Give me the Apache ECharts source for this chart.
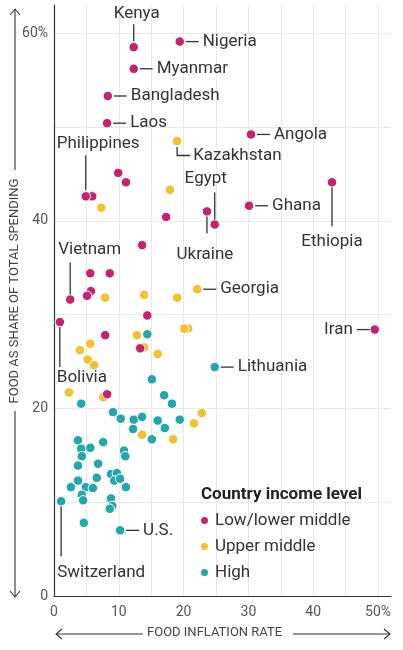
<!DOCTYPE html>
<html><head><meta charset="utf-8">
<script src="https://cdn.jsdelivr.net/npm/echarts@6/dist/echarts.min.js"></script>
<style>html,body{margin:0;padding:0;background:#fff}#c{width:403px;height:650px}</style>
</head><body><div id="c"></div>
<script>
// Low / lower-middle income
const lowNames = ['Kenya','Nigeria','Myanmar','Bangladesh','Laos','','Philippines','','','','Angola','Ukraine','Egypt','Ghana','Ethiopia','Iran','Vietnam','','','','','','Bolivia','','','',''];
const lowX = [12.3,19.4,12.3,8.3,8.2,5.9,4.9,9.9,11.1,17.3,30.4,23.6,24.8,30.1,42.9,49.5,2.5,13.6,5.6,8.6,5.7,5.1,0.9,14.4,7.9,13.3,8.2];
const lowY = [58.5,59.1,56.2,53.3,50.4,42.6,42.6,45.1,44.1,40.4,49.2,41.0,39.6,41.6,44.1,28.4,31.6,37.4,34.4,34.4,32.5,32.0,29.2,29.9,27.8,26.4,21.5];
// Upper-middle income
const upNames = ['Kazakhstan','','','Georgia','','','','','','','','','','','','','','','','','',''];
const upX = [19.0,17.9,7.3,22.1,19.0,13.9,7.9,20.7,20.1,12.8,13.9,5.6,4.0,5.2,6.2,16.0,2.3,7.6,22.8,21.6,13.6,18.4];
const upY = [48.5,43.3,41.4,32.7,31.8,32.1,31.8,28.5,28.5,27.8,26.5,26.9,26.2,25.2,24.6,25.8,21.7,21.2,19.5,18.4,17.2,16.7];
// High income
const highNames = ['Lithuania','','','','','','','','','','','','','','','','','','','','','','','','','','','','','','','','','','','','','','','Switzerland','','U.S.'];
const highX = [24.8,14.4,15.1,17.0,18.2,4.2,9.1,10.3,12.3,13.6,16.0,19.4,12.2,17.1,15.1,3.7,7.6,4.2,5.6,4.3,10.8,11.0,6.8,3.7,8.8,9.7,9.3,10.2,6.6,3.7,2.6,4.9,6.0,11.1,4.3,4.5,8.8,9.0,8.6,1.1,4.6,10.2];
const highY = [24.4,27.9,23.1,21.4,20.5,20.5,19.6,18.9,18.8,19.1,18.7,18.8,17.8,17.9,16.7,16.6,16.4,15.7,15.8,14.9,15.5,14.9,14.1,13.9,13.0,13.1,12.3,12.5,12.6,12.3,11.6,11.6,11.5,11.6,10.8,10.2,10.4,9.6,9.3,10.1,7.8,7.0];

const seriesNames = ['Low/lower middle','Upper middle','High'];
const xTicks = [0,10,20,30,40,50];
const yTicks = [0,20,40,60];

const COLORS = {low:'#c2246f', up:'#f0c133', high:'#25a6a8'};
const FONT = 'Roboto, "Noto Sans", sans-serif';

function pts(xs, ys, names){ return xs.map((x,i)=>({value:[x, ys[i]], name:names[i]})); }

// annotation layout (style only)
const H = {t:'h'};
const LAY = {
  'Kenya':{t:'v',l0:-6,l1:-23,tx:3,ty:-33,a:'center'},
  'Nigeria':H,'Myanmar':H,'Bangladesh':H,'Laos':H,'Angola':H,'Ghana':H,'Georgia':H,'Lithuania':H,'U.S.':H,
  'Iran':{t:'hl'},
  'Philippines':{t:'v',l0:-6,l1:-41,tx:-29,ty:-53,a:'left'},
  'Vietnam':{t:'v',l0:-5,l1:-37,tx:-12,ty:-50,a:'left'},
  'Egypt':{t:'v',l0:-5,l1:-32,tx:-9,ty:-46,a:'center'},
  'Ukraine':{t:'v',l0:5,l1:22,tx:-2,ty:43,a:'center'},
  'Ethiopia':{t:'v',l0:5,l1:44,tx:0,ty:59,a:'center'},
  'Bolivia':{t:'v',l0:5,l1:45,tx:-3,ty:56,a:'left'},
  'Switzerland':{t:'v',l0:5,l1:55,tx:-4,ty:71,a:'left'},
  'Kazakhstan':{t:'e'}
};

const annData = [];
[[lowX,lowY,lowNames],[upX,upY,upNames],[highX,highY,highNames]].forEach(([xs,ys,ns])=>{
  ns.forEach((n,i)=>{ if(n) annData.push({value:[xs[i],ys[i]], name:n}); });
});

function renderAnn(params, api){
  const p = api.coord([api.value(0), api.value(1)]);
  const name = annData[params.dataIndex].name;
  const L = LAY[name] || H;
  let pts, tx, ty, align;
  if (L.t === 'h') { pts=[[p[0]+6,p[1]],[p[0]+19,p[1]]]; tx=p[0]+23; ty=p[1]; align='left'; }
  else if (L.t === 'hl') { pts=[[p[0]-5,p[1]],[p[0]-18,p[1]]]; tx=p[0]-22; ty=p[1]; align='right'; }
  else if (L.t === 'e') { pts=[[p[0],p[1]+6],[p[0],p[1]+14.5],[p[0]+13,p[1]+14.5]]; tx=p[0]+16; ty=p[1]+14.5; align='left'; }
  else { pts=[[p[0],p[1]+L.l0],[p[0],p[1]+L.l1]]; tx=p[0]+L.tx; ty=p[1]+L.ty; align=L.a; }
  return {type:'group', children:[
    {type:'polyline', shape:{points:pts}, style:{stroke:'#333', lineWidth:1.3, fill:null}},
    {type:'text', x:tx, y:ty, style:{text:name, fill:'#333', font:'17px '+FONT, align:align, verticalAlign:'middle'}}
  ]};
}

const chart = echarts.init(document.getElementById('c'), null, {renderer:'canvas'});
const sym = {symbol:'circle', symbolSize:9.5};
const itemBorder = {borderColor:'#fff', borderWidth:1};

const arrowStyle = {stroke:'#333', lineWidth:1.1, fill:null};
chart.setOption({
  animation:false,
  backgroundColor:'#fff',
  title:{text:'Country income level', left:201, top:486, padding:0,
    textStyle:{fontFamily:FONT, fontSize:17, fontWeight:'bold', color:'#222'}},
  legend:{data:seriesNames, orient:'vertical', left:199, top:512, itemWidth:9, itemHeight:9, itemGap:9,
    icon:'circle', padding:0, textStyle:{fontFamily:FONT, fontSize:17, color:'#333', padding:[0,0,0,1]}},
  grid:{left:54, right:12, top:5, bottom:54, containLabel:false},
  xAxis:{type:'value', min:0, max:52, interval:5,
    axisLine:{show:true, lineStyle:{color:'#333', width:1.2}}, axisTick:{show:false},
    axisLabel:{showMaxLabel:false, margin:9, fontFamily:FONT, fontSize:14, color:'#555',
      formatter:v=> xTicks.includes(v) ? (v===50?'50%':String(v)) : ''},
    splitLine:{show:true, showMaxLine:false, lineStyle:{color:'#e8e8e8', width:1}}},
  yAxis:{type:'value', min:0, max:63, interval:10,
    axisLine:{show:true, lineStyle:{color:'#333', width:1.2}}, axisTick:{show:false},
    axisLabel:{showMaxLabel:false, margin:6, fontFamily:FONT, fontSize:14, color:'#555', verticalAlign:'middle', padding:[0,0,6,0],
      formatter:v=> yTicks.includes(v) ? (v===60?'60%':String(v)) : ''},
    splitLine:{show:true, showMaxLine:false, lineStyle:{color:'#e8e8e8', width:1}}},
  series:[
    Object.assign({type:'scatter', name:'High', data:pts(highX,highY,highNames), itemStyle:Object.assign({color:COLORS.high, opacity:1},itemBorder), z:2}, sym),
    Object.assign({type:'scatter', name:'Upper middle', data:pts(upX,upY,upNames), itemStyle:Object.assign({color:COLORS.up, opacity:1},itemBorder), z:3}, sym),
    Object.assign({type:'scatter', name:'Low/lower middle', data:pts(lowX,lowY,lowNames), itemStyle:Object.assign({color:COLORS.low, opacity:1},itemBorder), z:4}, sym),
    {type:'custom', name:'ann', data:annData, renderItem:renderAnn, silent:true, clip:false, z:5, encode:{x:0,y:1}}
  ],
  graphic:[
    // x axis title with arrows
    {type:'text', left:147, top:626, style:{text:'FOOD INFLATION RATE', font:'13px '+FONT, fill:'#444'}},
    {type:'polyline', shape:{points:[[56,634],[143,634]]}, style:arrowStyle},
    {type:'polyline', shape:{points:[[62,629],[56,634],[62,639]]}, style:arrowStyle},
    {type:'polyline', shape:{points:[[293,634],[390,634]]}, style:arrowStyle},
    {type:'polyline', shape:{points:[[384,629],[390,634],[384,639]]}, style:arrowStyle},
    // y axis title with arrows
    {type:'text', x:15, y:291, rotation:Math.PI/2, style:{text:'FOOD AS SHARE OF TOTAL SPENDING', font:'13px '+FONT, fill:'#444', align:'center', verticalAlign:'middle'}},
    {type:'polyline', shape:{points:[[15,9],[15,170]]}, style:arrowStyle},
    {type:'polyline', shape:{points:[[10,15],[15,9],[20,15]]}, style:arrowStyle},
    {type:'polyline', shape:{points:[[15,411],[15,597]]}, style:arrowStyle},
    {type:'polyline', shape:{points:[[10,591],[15,597],[20,591]]}, style:arrowStyle}
  ]
});
</script></body></html>
